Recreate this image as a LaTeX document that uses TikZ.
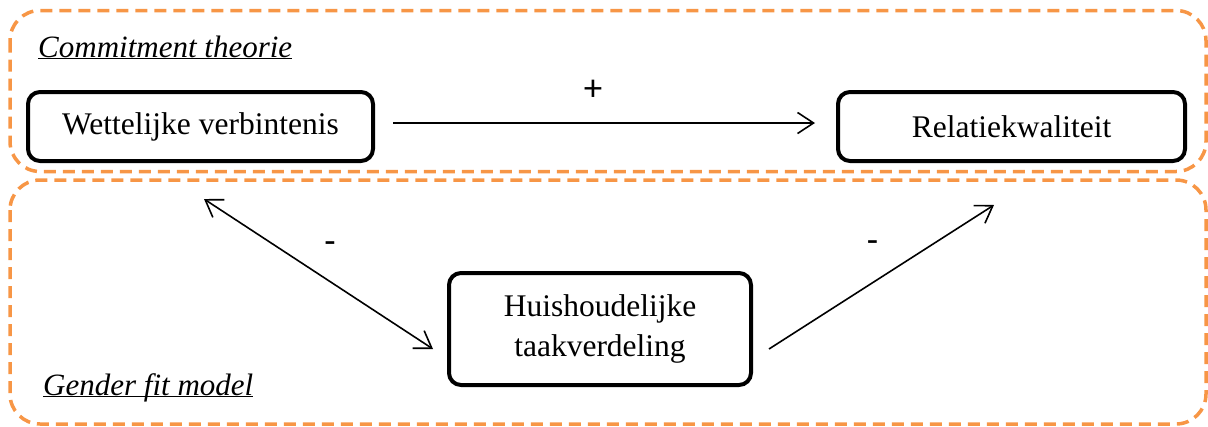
\documentclass[tikz,border=0pt]{standalone}
\usepackage{fontspec}
\setmainfont{Liberation Serif}
\newfontfamily\signfont{Carlito}
\usepackage{tikz}
\usetikzlibrary{arrows.meta}
\definecolor{theoryorange}{HTML}{F79646}

\begin{document}
\begin{tikzpicture}[x=1pt,y=-1pt,
    concept/.style={draw,line width=4pt,rounded corners=12pt,align=center,
      font=\fontsize{31.5}{40}\selectfont},
    theory/.style={draw=theoryorange,line width=3.5pt,
      dash pattern=on 12pt off 7pt,rounded corners=30pt},
    theorylabel/.style={anchor=base west,inner sep=0pt,
      font=\fontsize{31}{38}\selectfont\itshape},
    sign/.style={font=\signfont\fontsize{37}{44}\selectfont},
    effect/.style={line width=1.6pt},
    >={Straight Barb[length=16pt,width=21pt]}]
   \useasboundingbox (0,0) rectangle (1208,426);
   % Theories
   \draw[theory] (10,10.5) rectangle (1206,171.5);
   \draw[theory] (10,180) rectangle (1206,424);
   \node[theorylabel] (commit) at (38,57) {\underline{\smash{Commitment theorie}}};
   \node[theorylabel] (gender) at (43,395) {\underline{\smash{Gender fit model}}};
   % Concepts
   \node[concept,minimum width=345pt,minimum height=69pt] (wv) at (200.5,126.5) {Wettelijke verbintenis};
   \node[concept,minimum width=347pt,minimum height=69pt] (rk) at (1011.5,126.5) {Relatiekwaliteit};
   \node[concept,minimum width=302pt,minimum height=112pt] (hd) at (600,329) {Huishoudelijke\\taakverdeling};
   % Effects
   \draw[effect,->] ([xshift=18pt,yshift=3.5pt]wv.east)
      -- node[sign,pos=0.474,yshift=33pt]{+} ([xshift=-21pt,yshift=3.5pt]rk.west);
   \draw[effect,<->] ([xshift=3.5pt,yshift=-36pt]wv.south)
      -- node[sign,pos=0.55,yshift=34pt]{-} ([xshift=-14pt,yshift=-20pt]hd.west);
   \draw[effect,->] ([xshift=16pt,yshift=-20pt]hd.east)
      -- node[sign,pos=0.46,yshift=36pt]{-} ([xshift=-17.5pt,yshift=-42pt]rk.south);
\end{tikzpicture}
\end{document}
